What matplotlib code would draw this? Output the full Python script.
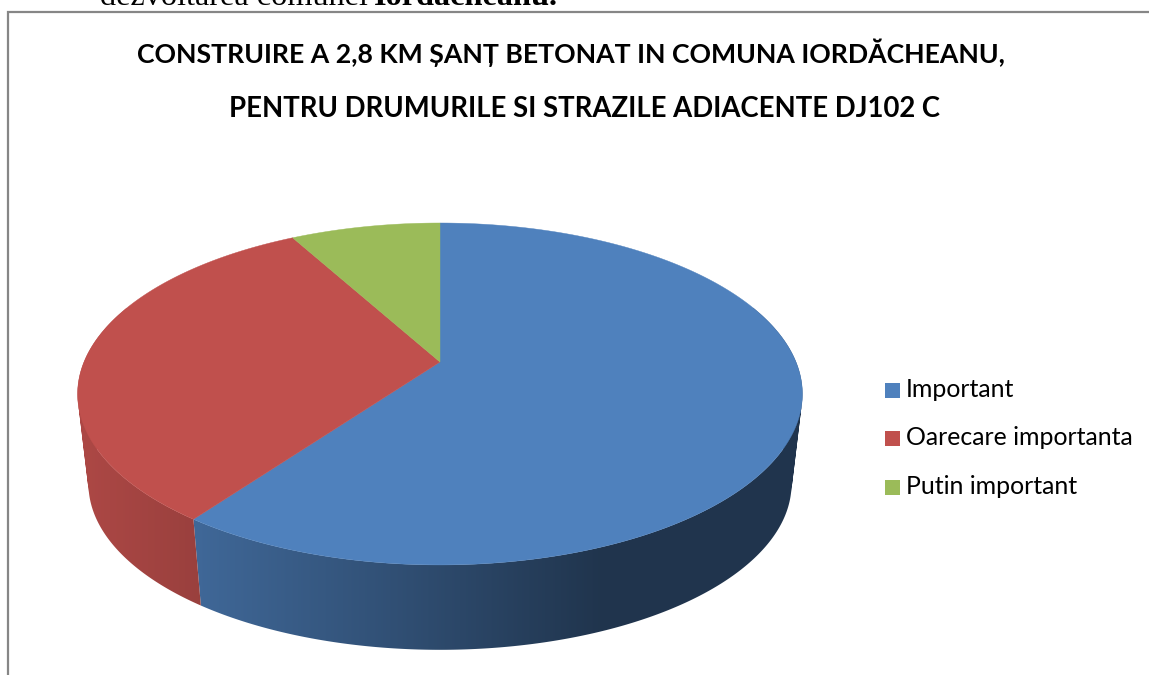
import numpy as np
import matplotlib
matplotlib.use("Agg")
import matplotlib.pyplot as plt
from matplotlib.path import Path
from matplotlib.colors import to_rgb

# ---- data ----
categories = ["Important", "Oarecare importanta", "Putin important"]
values = [60, 32, 8]
title_lines = ["CONSTRUIRE A 2,8 KM ȘANȚ BETONAT IN COMUNA IORDĂCHEANU,",
               "PENTRU DRUMURILE SI STRAZILE ADIACENTE DJ102 C"]
colors = ["#4f81bd", "#c0504d", "#9bbb59"]

W, H = 1149, 675
fig = plt.figure(figsize=(W / 100, H / 100), dpi=100, facecolor="white")
ax = fig.add_axes([0, 0, 1, 1])

# perspective projection of the pie disc
CX, CY0, K, C, A = 440.0, 362.0, 356.0, 0.187, -97.3
ELL_CY, SCALE, BOT_CY = 394.0, 0.97, 484.0


def top(theta):
    u, v = np.sin(theta), np.cos(theta)
    d = 1 + C * v
    return CX + K * u / d, (CY0 + A * v) / d


def bottom(theta):
    x, y = top(theta)
    return CX + (x - CX) * SCALE, BOT_CY + (y - ELL_CY) * SCALE


shade_x = [80, 200, 360, 600, 810]
shade_f = [0.90, 0.80, 0.65, 0.41, 0.41]

fracs = np.array(values, dtype=float) / np.sum(values)
edges = np.concatenate([[0], np.cumsum(fracs)]) * 2 * np.pi
grad_x = np.arange(60, 830)

for i, col in enumerate(colors):
    rgb = np.array(to_rgb(col))
    th = np.linspace(edges[i], edges[i + 1], max(int((edges[i + 1] - edges[i]) * 120), 4))
    verts, codes = [], []
    for a, b in zip(th[:-1], th[1:]):
        if np.cos((a + b) / 2) > 0.35:
            continue
        q = np.array([top(a), top(b), bottom(b), bottom(a)])
        area = np.sum(q[:, 0] * np.roll(q[:, 1], -1) - np.roll(q[:, 0], -1) * q[:, 1])
        if area < 0:
            q = q[::-1]
        verts += list(map(tuple, q)) + [tuple(q[0])]
        codes += [Path.MOVETO, Path.LINETO, Path.LINETO, Path.LINETO, Path.CLOSEPOLY]
    if not verts:
        continue
    img = np.outer(np.interp(grad_x, shade_x, shade_f), rgb)[np.newaxis, :, :]
    im = ax.imshow(img, extent=[60, 830, 660, 200], aspect="auto", zorder=2, interpolation="bilinear")
    im.set_clip_path(Path(verts, codes), ax.transData)

for i, col in enumerate(colors):
    th = np.linspace(edges[i], edges[i + 1], 300)
    x, y = top(th)
    ax.fill(np.r_[CX, x], np.r_[CY0, y], color=col, lw=0.3, zorder=3)

ax.set_xlim(0, W)
ax.set_ylim(H, 0)
ax.axis("off")

# frame of the embedded chart
ax.plot([8, 8, W + 2], [H + 2, 11.5, 11.5], color="#868686", lw=1.6, zorder=5, solid_joinstyle="miter")

# cropped document text above
ax.text(100, 5, "dezvoltarea comunei", family="Liberation Serif", fontsize=23.2, color="black", va="baseline", ha="left")
ax.text(374, 5, "Iordăcheanu.", family="Liberation Serif", fontsize=23.2, weight="bold", color="black", va="baseline", ha="left")

# title
for line, xc, yb, fs in zip(title_lines, [570.5, 584.5], [63, 117], [19.2, 19.8]):
    ax.text(xc, yb, line, family="Lato", weight="bold", fontsize=fs, color="black", ha="center", va="baseline", zorder=6)

# legend
for name, col, yc in zip(categories, colors, [390, 438, 487]):
    ax.fill([884.5, 900, 900, 884.5], [yc - 7.5, yc - 7.5, yc + 7.5, yc + 7.5], color=col, lw=0, zorder=6)
    ax.text(906, yc + 7, name, family="Lato", fontsize=17.9, color="black", ha="left", va="baseline", zorder=6)

fig.savefig("out.png", dpi=100, facecolor="white")
